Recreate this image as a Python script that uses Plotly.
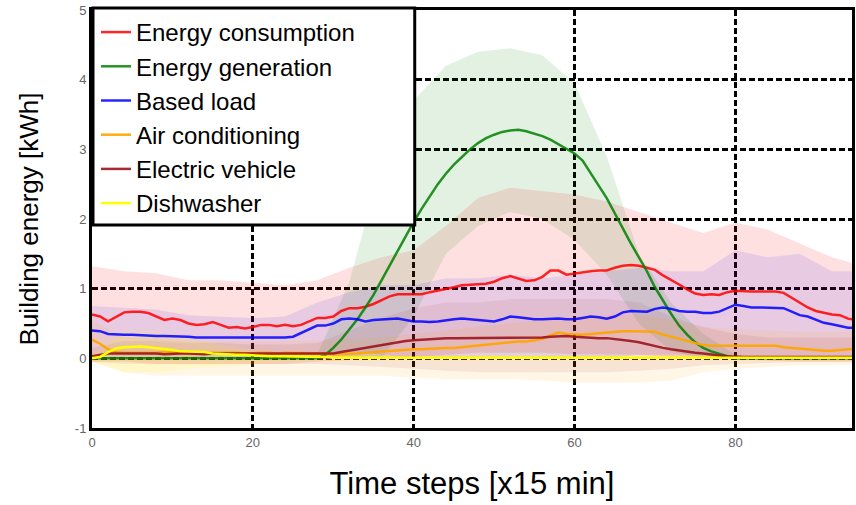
import plotly.graph_objects as go

# ---------------- data ----------------
steps = list(range(96))

consumption = [0.63,0.60,0.53,0.60,0.66,0.67,0.67,0.65,0.60,0.55,
               0.57,0.55,0.50,0.48,0.49,0.52,0.48,0.44,0.45,0.43,
               0.45,0.48,0.48,0.46,0.48,0.46,0.48,0.53,0.58,0.58,
               0.60,0.68,0.72,0.72,0.74,0.78,0.84,0.89,0.92,0.92,
               0.91,0.92,0.95,0.97,1.00,1.02,1.05,1.06,1.06,1.07,
               1.10,1.15,1.18,1.14,1.11,1.12,1.17,1.26,1.26,1.20,
               1.22,1.24,1.25,1.26,1.26,1.30,1.33,1.34,1.33,1.30,
               1.27,1.19,1.13,1.06,0.99,0.93,0.91,0.92,0.91,0.95,
               0.97,0.96,0.96,0.96,0.96,0.96,0.94,0.87,0.80,0.73,
               0.68,0.65,0.63,0.62,0.57,0.55]

generation = [0,0,0,0,0,0,0,0,0,0,
              0,0,0,0,0,0,0,0,0,0,
              0,0,0,0,0,0,0,0,0,0.05,
              0.15,0.27,0.42,0.56,0.73,0.91,1.12,1.33,1.55,1.76,
              1.96,2.15,2.33,2.50,2.65,2.78,2.89,3.00,3.09,3.16,
              3.21,3.25,3.27,3.28,3.26,3.23,3.19,3.14,3.07,3.00,
              2.94,2.84,2.65,2.48,2.30,2.08,1.88,1.65,1.45,1.25,
              1.02,0.82,0.64,0.47,0.34,0.23,0.15,0.10,0.06,0.03,
              0,0,0,0,0,0,0,0,0,0,
              0,0,0,0,0,0]

base_load = [0.40,0.39,0.35,0.34,0.34,0.34,0.33,0.33,0.32,0.32,
             0.32,0.32,0.31,0.30,0.30,0.30,0.29,0.29,0.29,0.29,
             0.29,0.29,0.29,0.30,0.30,0.31,0.36,0.42,0.47,0.47,
             0.50,0.56,0.57,0.56,0.53,0.55,0.56,0.57,0.57,0.55,
             0.53,0.53,0.52,0.53,0.55,0.56,0.57,0.56,0.55,0.54,
             0.53,0.56,0.60,0.59,0.57,0.56,0.56,0.57,0.57,0.56,
             0.56,0.58,0.60,0.59,0.57,0.60,0.66,0.68,0.67,0.67,
             0.71,0.73,0.71,0.68,0.67,0.67,0.65,0.65,0.67,0.72,
             0.77,0.75,0.73,0.73,0.73,0.72,0.72,0.67,0.62,0.60,
             0.55,0.51,0.49,0.46,0.44,0.44]

air_cond = [0.27,0.21,0.13,0.09,0.08,0.08,0.07,0.08,0.08,0.09,
            0.08,0.08,0.07,0.08,0.08,0.08,0.09,0.08,0.08,0.07,
            0.08,0.08,0.08,0.07,0.08,0.08,0.07,0.07,0.07,0.07,
            0.06,0.06,0.06,0.07,0.08,0.09,0.10,0.10,0.11,0.12,
            0.13,0.13,0.14,0.14,0.15,0.15,0.16,0.17,0.18,0.19,
            0.21,0.22,0.23,0.24,0.24,0.26,0.28,0.33,0.37,0.35,
            0.34,0.34,0.35,0.36,0.38,0.38,0.39,0.39,0.39,0.38,
            0.38,0.34,0.31,0.28,0.24,0.22,0.19,0.18,0.18,0.18,
            0.18,0.18,0.18,0.18,0.18,0.18,0.16,0.15,0.14,0.12,
            0.11,0.11,0.11,0.12,0.14,0.14]

ev = [0.03,0.05,0.07,0.07,0.07,0.08,0.07,0.07,0.07,0.06,
      0.07,0.07,0.07,0.06,0.06,0.07,0.07,0.07,0.06,0.06,
      0.06,0.06,0.06,0.06,0.06,0.06,0.06,0.06,0.06,0.07,
      0.07,0.09,0.11,0.14,0.16,0.18,0.20,0.22,0.24,0.25,
      0.26,0.27,0.28,0.29,0.29,0.29,0.29,0.29,0.29,0.29,
      0.29,0.29,0.30,0.30,0.30,0.30,0.30,0.31,0.32,0.32,
      0.31,0.30,0.30,0.29,0.29,0.28,0.27,0.25,0.23,0.20,
      0.18,0.15,0.13,0.11,0.10,0.08,0.07,0.05,0.04,0.03,
      0.02,0.02,0.02,0.02,0.02,0.02,0.02,0.02,0.02,0.02,
      0.02,0.02,0.02,0.02,0.02,0.02]

dishwasher = [0.00,0.02,0.09,0.14,0.16,0.17,0.17,0.16,0.15,0.14,
              0.12,0.10,0.10,0.09,0.09,0.07,0.06,0.06,0.05,0.05,
              0.04,0.03,0.03,0.03,0.03,0.03,0.02,0.02,0.02,0.02,
              0.01,0.01,0.01,0.01,0.01,0.01,0.01,0.01,0.01,0.01,
              0.01,0.01,0.01,0.01,0.01,0.01,0.01,0.01,0.01,0.01,
              0.01,0.01,0.01,0.01,0.01,0.01,0.01,0.01,0.01,0.01,
              0.01,0.01,0.01,0.01,0.01,0.01,0.01,0.01,0.01,0.01,
              0.01,0.01,0.01,0.01,0.01,0.01,0.01,0.01,0.01,0.01,
              0.01,0.01,0.01,0.01,0.01,0.01,0.01,0.01,0.01,0.01,
              0.01,0.01,0.01,0.01,0.01,0.01]

# uncertainty bands (sampled every 4 steps)
band_steps = [0,4,8,12,16,20,24,28,32,36,40,44,48,52,56,60,64,68,72,76,80,84,88,92,95]

consumption_hi = [1.32,1.25,1.22,1.12,1.12,1.08,1.05,1.12,1.30,1.45,1.55,1.90,2.30,2.45,2.40,2.35,2.25,2.10,1.95,1.80,1.95,1.85,1.65,1.45,1.35]
consumption_lo = [-0.05,-0.05,-0.08,-0.08,-0.08,-0.08,-0.08,-0.05,-0.02,0.00,0.02,0.05,0.08,0.08,0.08,0.06,0.06,0.05,0.02,0.00,-0.02,-0.03,-0.05,-0.05,-0.05]

generation_hi = [0,0,0,0,0,0,0,0.05,1.10,2.80,3.70,4.20,4.40,4.45,4.35,3.95,2.90,1.50,0.80,0.35,0.05,0,0,0,0]
generation_lo = [0,0,0,0,0,0,0,0,0,0,0.60,1.50,1.90,2.10,2.00,1.70,1.20,0.50,0.10,0,0,0,0,0,0]

base_hi = [0.75,0.72,0.70,0.62,0.60,0.58,0.60,0.80,0.95,1.05,1.05,1.15,1.15,1.20,1.15,1.20,1.25,1.30,1.25,1.25,1.55,1.45,1.50,1.25,1.25]
base_lo = [0.05,0.00,0.00,0.00,0.00,0.00,0.00,0.05,0.10,0.05,0.00,0.00,0.00,0.00,0.00,0.00,0.00,0.05,0.05,0.05,0.00,0.00,0.00,-0.02,-0.02]

ac_hi = [0.55,0.30,0.28,0.25,0.25,0.25,0.25,0.25,0.28,0.30,0.35,0.40,0.45,0.50,0.55,0.60,0.62,0.62,0.55,0.45,0.42,0.40,0.38,0.38,0.38]
ac_lo = [-0.05,-0.20,-0.25,-0.25,-0.25,-0.25,-0.25,-0.25,-0.25,-0.25,-0.28,-0.30,-0.30,-0.30,-0.32,-0.35,-0.35,-0.35,-0.32,-0.20,-0.15,-0.12,-0.10,-0.10,-0.08]

ev_hi = [0.15,0.25,0.25,0.22,0.22,0.20,0.20,0.22,0.40,0.58,0.72,0.80,0.80,0.85,0.85,0.85,0.85,0.80,0.60,0.45,0.35,0.30,0.30,0.30,0.30]
ev_lo = [-0.05,-0.08,-0.08,-0.08,-0.08,-0.08,-0.08,-0.08,-0.10,-0.12,-0.15,-0.18,-0.20,-0.20,-0.20,-0.20,-0.20,-0.18,-0.15,-0.10,-0.08,-0.06,-0.05,-0.05,-0.05]

dw_hi = [0.05,0.40,0.38,0.30,0.20,0.12,0.08,0.05,0.03,0.02,0.02,0.02,0.02,0.02,0.02,0.02,0.02,0.02,0.02,0.02,0.02,0.02,0.02,0.02,0.02]
dw_lo = [-0.05,-0.20,-0.20,-0.15,-0.12,-0.08,-0.05,-0.04,-0.02,-0.02,-0.02,-0.02,-0.02,-0.02,-0.02,-0.02,-0.02,-0.02,-0.02,-0.02,-0.02,-0.02,-0.02,-0.02,-0.02]

series_names = ["Energy consumption", "Energy generation", "Based load",
                "Air conditioning", "Electric vehicle", "Dishwasher"]
x_ticks = [0, 20, 40, 60, 80]
y_ticks = [-1, 0, 1, 2, 3, 4, 5]

# ---------------- styling ----------------
line_colors = ["rgba(255,0,0,0.85)", "rgba(0,128,0,0.85)", "rgba(0,0,255,0.85)",
               "rgba(255,165,0,0.95)", "rgba(155,20,30,0.9)", "rgba(255,255,0,1)"]
fill_colors = ["rgba(255,0,0,0.12)", "rgba(0,128,0,0.11)", "rgba(0,0,255,0.09)",
               "rgba(255,165,0,0.10)", "rgba(155,20,30,0.08)", "rgba(255,255,0,0.12)"]

means = [consumption, generation, base_load, air_cond, ev, dishwasher]
his = [consumption_hi, generation_hi, base_hi, ac_hi, ev_hi, dw_hi]
los = [consumption_lo, generation_lo, base_lo, ac_lo, ev_lo, dw_lo]

fig = go.Figure()

# bands
for i in range(len(series_names)):
    fig.add_trace(go.Scatter(x=band_steps, y=his[i], mode="lines",
                             line=dict(width=0), showlegend=False, hoverinfo="skip"))
    fig.add_trace(go.Scatter(x=band_steps, y=los[i], mode="lines",
                             line=dict(width=0), fill="tonexty",
                             fillcolor=fill_colors[i], showlegend=False, hoverinfo="skip"))

# mean lines
for i, name in enumerate(series_names):
    fig.add_trace(go.Scatter(x=steps, y=means[i], mode="lines", name=name,
                             line=dict(color=line_colors[i], width=2.5)))

font_family = "Liberation Sans, Arial, sans-serif"
grid_dash = "6px,3px"

# plot area in pixels: left 92, right 855, top 10, bottom 428
def px_y(p):
    return (428 - p) / 418.0

def px_x(p):
    return (p - 92) / 763.0

fig.update_layout(
    width=856, height=505,
    margin=dict(l=92, r=1, t=10, b=77),
    paper_bgcolor="white", plot_bgcolor="white",
    font=dict(family=font_family, color="black"),
    showlegend=True,
    legend=dict(
        x=px_x(96), y=px_y(10), xanchor="left", yanchor="top",
        bgcolor="rgba(0,0,0,0)", borderwidth=0, traceorder="normal",
        font=dict(size=24, family=font_family, color="black"),
    ),
    shapes=[dict(type="rect", xref="paper", yref="paper",
                 x0=px_x(93), x1=px_x(416), y0=px_y(225), y1=px_y(8),
                 line=dict(color="black", width=3), fillcolor="white", layer="above")],
    xaxis=dict(
        range=[0, 94.5], tickvals=x_ticks, ticktext=[str(v) for v in x_ticks],
        showgrid=True, gridcolor="black", gridwidth=2.5, griddash=grid_dash,
        zeroline=False, showline=True, linecolor="black", linewidth=3, mirror=True,
        ticks="", tickfont=dict(size=13, color="#666666"),
        title=dict(text="Time steps [x15 min]", font=dict(size=31, color="black"), standoff=24),
    ),
    yaxis=dict(
        range=[-1, 5], tickvals=y_ticks, ticktext=[str(v) for v in y_ticks],
        showgrid=True, gridcolor="black", gridwidth=2.5, griddash=grid_dash,
        zeroline=False, showline=True, linecolor="black", linewidth=3, mirror=True,
        ticks="", tickfont=dict(size=13, color="#666666"),
        title=dict(text="Building energy [kWh]", font=dict(size=26, color="black"), standoff=29),
    ),
)

fig.write_html("out.html")
